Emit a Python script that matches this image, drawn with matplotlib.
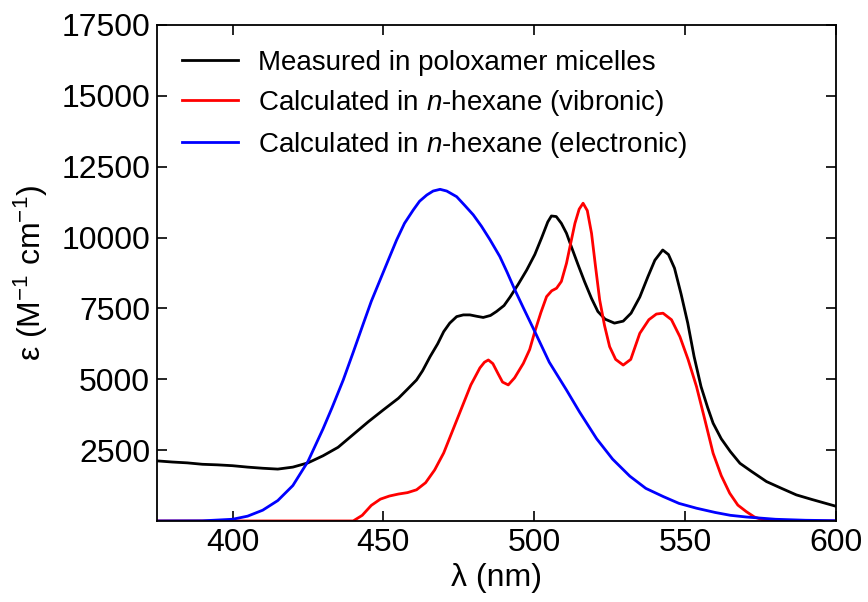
import matplotlib
matplotlib.use("Agg")
import matplotlib.pyplot as plt

plt.rcParams["font.family"] = ["Liberation Sans", "DejaVu Sans"]
plt.rcParams["mathtext.fontset"] = "custom"
plt.rcParams["mathtext.rm"] = "Liberation Sans"
plt.rcParams["mathtext.it"] = "Liberation Sans:italic"

# -----------------------
# Data
# -----------------------
wl_measured = [375, 380, 385, 390, 395, 400, 405, 410, 415, 420, 425, 430, 435, 440,
               445, 450, 455, 458, 461, 463, 465.5, 468, 470, 472, 474.3, 476.5, 478.7,
               481, 483.1, 485.5, 487.5, 490, 492, 494.7, 497.5, 500.2, 502.5, 504.5,
               505.7, 507.3, 509, 510.7, 512.3, 514.5, 516.7, 519, 521.1, 523.5, 526.6,
               529.5, 532.1, 535, 537.7, 540, 542.6, 544.5, 546.5, 548.7, 550.9, 553,
               555.3, 557.5, 559.3, 562, 565, 568.2, 572, 577, 582, 586.9, 592, 596, 600]
eps_measured = [2120, 2080, 2050, 2000, 1980, 1950, 1900, 1860, 1830, 1900, 2050, 2300,
                2600, 3050, 3500, 3920, 4330, 4650, 4975, 5300, 5800, 6250, 6680, 6980,
                7210, 7270, 7270, 7220, 7180, 7250, 7390, 7600, 7900, 8350, 8850, 9400,
                10000, 10550, 10760, 10740, 10500, 10150, 9680, 9050, 8440, 7850, 7390,
                7120, 6980, 7050, 7330, 7900, 8620, 9200, 9560, 9400, 8920, 8000, 6980,
                5800, 4740, 4000, 3450, 2900, 2450, 2035, 1750, 1390, 1150, 920, 760,
                640, 520]

wl_vibronic = [375, 440, 443, 446, 449, 452, 455, 458, 461, 464, 467, 470, 473, 476,
               479, 482, 483.5, 484.8, 486.3, 488, 489.5, 491.4, 493.5, 496.4, 498.5,
               500.2, 502.2, 504.1, 505.8, 507.4, 509, 510.7, 512.2, 513.5, 514.9, 516.2,
               517.6, 519, 520.3, 521.7, 523.3, 525, 527, 529.5, 532, 535, 538, 540.5,
               542.7, 545.5, 548.3, 551, 553.8, 556.5, 559.3, 562, 564.8, 567.5, 570.3,
               573, 575.8, 578, 600]
eps_vibronic = [0, 0, 200, 550, 770, 880, 950, 1000, 1100, 1350, 1800, 2400, 3200, 4000,
                4800, 5400, 5600, 5680, 5550, 5200, 4900, 4800, 5050, 5560, 6050, 6680,
                7350, 7915, 8120, 8210, 8450, 9090, 9850, 10500, 11000, 11210, 10950,
                10150, 9000, 7800, 6900, 6150, 5700, 5500, 5700, 6620, 7100, 7300, 7330,
                7100, 6500, 5700, 4740, 3600, 2390, 1600, 980, 560, 330, 140, 40, 0, 0]

wl_electronic = [375, 390, 400, 405, 410, 415, 420, 425, 430, 433, 436.7, 440, 443.4,
                 446, 448.9, 452, 454.4, 457, 459.9, 462, 464.4, 466.5, 468.8, 471,
                 474.3, 477, 479.8, 482.5, 485.3, 488.6, 491, 493.6, 496.4, 500.2, 505,
                 510.7, 515, 520.7, 526, 531.7, 537, 542.8, 548, 553.8, 560, 565, 570.3,
                 580, 590, 600]
eps_electronic = [0, 5, 60, 170, 380, 720, 1250, 2100, 3250, 4000, 4975, 5950, 6975,
                  7750, 8500, 9300, 9915, 10500, 10970, 11280, 11500, 11640, 11700,
                  11640, 11440, 11130, 10800, 10400, 9930, 9330, 8780, 8150, 7520, 6680,
                  5600, 4620, 3850, 2900, 2180, 1580, 1150, 860, 620, 450, 300, 200, 140,
                  60, 25, 10]

labels = ["Measured in poloxamer micelles",
          "Calculated in $n$-hexane (vibronic)",
          "Calculated in $n$-hexane (electronic)"]

# -----------------------
# Plot
# -----------------------
fig = plt.figure(figsize=(8.68, 6.02), dpi=100)
ax = fig.add_axes([0.181, 0.1346, 0.782, 0.824])

ax.plot(wl_measured, eps_measured, color="black", lw=2, label=labels[0])
ax.plot(wl_vibronic, eps_vibronic, color="red", lw=2, label=labels[1])
ax.plot(wl_electronic, eps_electronic, color="blue", lw=2, label=labels[2])

ax.set_xlim(375, 600)
ax.set_ylim(0, 17500)
ax.set_xticks([400, 450, 500, 550, 600])
ax.set_yticks([2500, 5000, 7500, 10000, 12500, 15000, 17500])
ax.tick_params(direction="in", top=True, right=True, length=7, width=1.2,
               labelsize=23, pad=5)
for sp in ax.spines.values():
    sp.set_linewidth(1.3)

ax.set_xlabel("λ (nm)", fontsize=23, labelpad=4)
ax.set_ylabel("ε (M$^{-1}$ cm$^{-1}$)", fontsize=23, labelpad=8)

ax.legend(loc="upper left", frameon=False, fontsize=20, handlelength=2.0,
          handletextpad=0.75, labelspacing=0.43, borderaxespad=0.5)

fig.savefig("out.png", dpi=100)
